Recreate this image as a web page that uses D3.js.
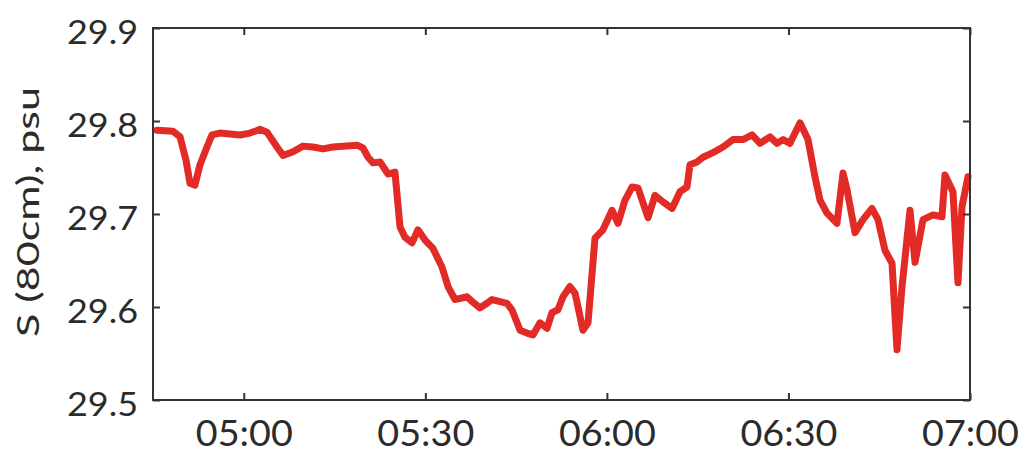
<!DOCTYPE html>
<html>
<head>
<meta charset="utf-8">
<script src="https://cdn.jsdelivr.net/npm/d3@7"></script>
<style>
  html, body { margin: 0; padding: 0; background: #fff; }
  svg { display: block; }
</style>
</head>
<body>
<svg id="chart" width="1025" height="461"></svg>
<script>
// ---- data ----
const times = [
  "04:45:40","04:48:18","04:49:28","04:50:27","04:51:07","04:51:56","04:52:46","04:53:55","04:54:45","04:56:04",
  "04:59:23","05:01:02","05:02:41","05:03:50","05:05:29","05:06:29","05:08:08","05:09:47","05:11:26","05:13:05",
  "05:14:45","05:18:43","05:19:42","05:20:32","05:21:21","05:22:31","05:23:50","05:24:59","05:25:49","05:26:38",
  "05:27:48","05:28:47","05:29:57","05:31:16","05:32:45","05:33:45","05:34:54","05:36:53","05:37:53","05:39:02",
  "05:40:11","05:41:01","05:43:30","05:44:19","05:45:39","05:46:48","05:47:47","05:48:57","05:50:06","05:50:56",
  "05:51:55","05:52:45","05:53:54","05:54:44","05:56:03","05:56:53","05:58:02","05:59:21","06:00:51","06:01:50",
  "06:03:00","06:04:09","06:05:08","06:06:48","06:07:57","06:09:16","06:10:46","06:12:05","06:13:14","06:13:44",
  "06:14:53","06:15:53","06:17:32","06:19:11","06:20:50","06:22:29","06:23:59","06:25:18","06:26:57","06:28:07",
  "06:29:06","06:30:15","06:31:55","06:33:14","06:34:23","06:35:13","06:36:22","06:38:01","06:39:01","06:39:41",
  "06:41:00","06:42:19","06:43:48","06:44:48","06:45:57","06:47:07","06:47:56","06:48:46","06:50:05","06:50:55",
  "06:52:14","06:53:53","06:55:22","06:55:52","06:57:11","06:58:01","06:58:41","06:59:40"
];
const salinity = [
  29.790,29.789,29.783,29.758,29.733,29.731,29.753,29.772,29.785,29.787,
  29.785,29.787,29.791,29.788,29.772,29.763,29.767,29.773,29.772,29.770,
  29.772,29.774,29.771,29.761,29.755,29.756,29.743,29.745,29.686,29.675,
  29.669,29.683,29.672,29.663,29.643,29.622,29.608,29.611,29.605,29.599,
  29.604,29.608,29.604,29.597,29.575,29.572,29.570,29.583,29.577,29.594,
  29.597,29.611,29.622,29.615,29.575,29.583,29.674,29.683,29.704,29.690,
  29.715,29.729,29.728,29.696,29.720,29.713,29.706,29.724,29.729,29.753,
  29.756,29.761,29.766,29.772,29.780,29.780,29.785,29.776,29.783,29.776,
  29.780,29.776,29.798,29.780,29.740,29.715,29.701,29.690,29.744,29.726,
  29.680,29.694,29.706,29.694,29.661,29.647,29.554,29.622,29.704,29.648,
  29.694,29.699,29.697,29.742,29.724,29.626,29.708,29.740
];
const xTickLabels = ["05:00","05:30","06:00","06:30","07:00"];
const yTickValues = [29.5, 29.6, 29.7, 29.8, 29.9];
const xDomain = ["04:45:00","07:00:00"];
const yDomain = [29.5, 29.9];
const yTitle = "S (80cm), psu";

// ---- layout ----
const W = 1025, H = 461;
const margin = {left: 153, right: 55, top: 28, bottom: 61};
const iw = W - margin.left - margin.right;
const ih = H - margin.top - margin.bottom;
const axisColor = "#333";
const textColor = "#2b2b2b";
const lineColor = "#e22b26";
const fontFam = "Lato, 'Open Sans', 'Liberation Sans', Arial, sans-serif";
const fontW = 400;

const parse = d3.timeParse("%H:%M:%S");
const parseHM = d3.timeParse("%H:%M");
const data = times.map((t, i) => ({t: parse(t), v: salinity[i]}));

const x = d3.scaleTime().domain(xDomain.map(parse)).range([0, iw]);
const y = d3.scaleLinear().domain(yDomain).range([ih, 0]);

const svg = d3.select("#chart");
const g = svg.append("g").attr("transform", `translate(${margin.left},${margin.top})`);

// line
const line = d3.line().x(d => x(d.t)).y(d => y(d.v)).curve(d3.curveLinear);
g.append("path")
  .datum(data)
  .attr("fill", "none")
  .attr("stroke", lineColor)
  .attr("stroke-width", 7)
  .attr("stroke-linejoin", "round")
  .attr("stroke-linecap", "round")
  .attr("d", line);

const tickLen = 7;
const xTickDates = xTickLabels.map(parseHM);

// bottom axis
const xb = g.append("g").attr("transform", `translate(0,${ih})`)
  .call(d3.axisBottom(x).tickValues(xTickDates).tickSize(-tickLen).tickFormat((d, i) => xTickLabels[i]));
// top axis
const xt = g.append("g")
  .call(d3.axisTop(x).tickValues(xTickDates).tickSize(-tickLen).tickFormat(""));
// left axis
const yl = g.append("g")
  .call(d3.axisLeft(y).tickValues(yTickValues).tickSize(-tickLen).tickFormat(d3.format(".1f")));
// right axis
const yr = g.append("g").attr("transform", `translate(${iw},0)`)
  .call(d3.axisRight(y).tickValues(yTickValues).tickSize(-tickLen).tickFormat(""));

[xb, xt, yl, yr].forEach(a => {
  a.select(".domain").remove();
  a.selectAll(".tick line").attr("stroke", axisColor).attr("stroke-width", 2);
});

xb.selectAll(".tick text")
  .attr("y", 46).attr("dy", null)
  .attr("font-family", fontFam)
  .attr("font-weight", fontW)
  .attr("font-size", 36)
  .attr("fill", textColor)
  .attr("text-anchor", "middle")
  .attr("textLength", 97)
  .attr("lengthAdjust", "spacingAndGlyphs");

yl.selectAll(".tick text")
  .attr("x", -15).attr("dy", null).attr("y", 15)
  .attr("font-family", fontFam)
  .attr("font-weight", fontW)
  .attr("font-size", 32)
  .attr("fill", textColor)
  .attr("text-anchor", "end")
  .attr("textLength", 71)
  .attr("lengthAdjust", "spacingAndGlyphs");

// frame
g.append("rect")
  .attr("x", 0).attr("y", 0).attr("width", iw).attr("height", ih)
  .attr("fill", "none").attr("stroke", axisColor).attr("stroke-width", 2);

// y title
svg.append("text")
  .attr("transform", `translate(38.5,${margin.top + ih / 2 - 2}) rotate(-90)`)
  .attr("text-anchor", "middle")
  .attr("font-family", fontFam)
  .attr("font-weight", fontW)
  .attr("font-size", 30)
  .attr("fill", textColor)
  .attr("textLength", 250)
  .attr("lengthAdjust", "spacingAndGlyphs")
  .text(yTitle);
</script>
</body>
</html>
